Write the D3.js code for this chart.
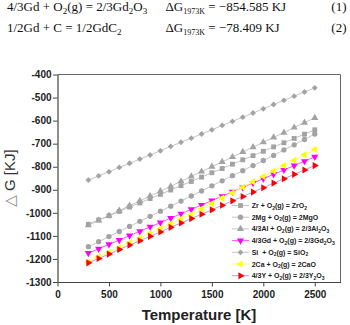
<!DOCTYPE html>
<html>
<head>
<meta charset="utf-8">
<script src="https://d3js.org/d3.v7.min.js"></script>
<style>
  body { margin: 0; background: #fff; }
  svg { display: block; }
</style>
</head>
<body>
<div id="chart"></div>
<script>
// temperatures (K)
var temps = [300, 400, 500, 600, 700, 800, 900, 1000, 1100, 1200, 1300, 1400,
             1500, 1600, 1700, 1800, 1900, 2000, 2100, 2200, 2300, 2400, 2500];

// delta G values (kJ)
var zrO2 = [-1050, -1031, -1013, -994, -975, -957, -938, -920, -901, -882, -864, -845,
            -826, -808, -789, -770, -752, -733, -714, -696, -677, -659, -640];
var mgO = [-1147, -1125, -1103, -1081, -1059, -1037, -1015, -993, -971, -949, -927, -905,
           -883, -861, -839, -817, -795, -773, -751, -727, -705, -682, -658];
var al2O3 = [-1054, -1033, -1012, -990, -969, -948, -927, -906, -885, -863, -842, -821,
             -800, -779, -758, -736, -715, -694, -673, -652, -630, -609, -588];
var gd2O3 = [-1175, -1156, -1137, -1118, -1099, -1080, -1061, -1042, -1023, -1004, -985, -966,
             -947, -928, -909, -890, -871, -852, -833, -814, -795, -776, -757];
var siO2 = [-858, -840, -822, -803, -785, -767, -749, -731, -712, -694, -676, -658,
            -640, -621, -603, -585, -567, -549, -530, -512, -494, -476, -458];
var caO = [-1212, -1191, -1171, -1150, -1130, -1109, -1089, -1068, -1048, -1027, -1007, -983,
           -960, -936, -913, -889, -866, -842, -819, -795, -772, -748, -725];
var y2O3 = [-1217, -1198, -1179, -1159, -1140, -1121, -1102, -1083, -1063, -1044, -1025, -1006,
            -987, -967, -948, -929, -910, -891, -871, -852, -833, -814, -795];

var seriesNames = ['Zr + O_2(g) = ZrO_2', '2Mg + O_2(g) = 2MgO', '4/3Al + O_2(g) = 2/3Al_2O_3',
                   '4/3Gd + O_2(g) = 2/3Gd_2O_3', 'Si  + O_2(g) = SiO_2', '2Ca + O_2(g) = 2CaO',
                   '4/3Y + O_2(g) = 2/3Y_2O_3'];
var seriesValues = [zrO2, mgO, al2O3, gd2O3, siO2, caO, y2O3];

var xTicks = [0, 500, 1000, 1500, 2000, 2500];
var yTicks = [-1300, -1200, -1100, -1000, -900, -800, -700, -600, -500, -400];

// styles per series
var fills = ['#a3a3a3', '#a3a3a3', '#a3a3a3', '#ff00ff', '#a3a3a3', '#ffff00', '#ff0000'];
var lineColors = ['#bdbdbd', '#bdbdbd', '#bdbdbd', '#ff40ff', '#bdbdbd', '#ffff60', '#a694e8'];
var shapes = [
  {type: d3.symbolSquare, size: 24, rot: 0},
  {type: d3.symbolCircle, size: 22, rot: 0},
  {type: d3.symbolTriangle, size: 22, rot: 0},
  {type: d3.symbolTriangle, size: 22, rot: 180},
  {type: d3.symbolSquare, size: 17, rot: 45},
  {type: d3.symbolTriangle, size: 22, rot: -90},
  {type: d3.symbolTriangle, size: 22, rot: 90}
];

var W = 350, H = 325;
var svg = d3.select('#chart').append('svg').attr('width', W).attr('height', H);

var x = d3.scaleLinear().domain([0, 2750]).range([57.5, 340.5]);
var y = d3.scaleLinear().domain([-1300, -400]).range([282, 74.5]);

// text with _x or _{xx} subscripts
function richText(sel, str, subSize, shift) {
  var re = /_\{([^}]*)\}|_(.)|([^_]+)/g, m, down = false;
  while ((m = re.exec(str)) !== null) {
    var sub = m[1] !== undefined ? m[1] : m[2];
    if (sub !== undefined) {
      sel.append('tspan').attr('dy', down ? 0 : shift).style('font-size', subSize + 'px').text(sub);
      down = true;
    } else {
      sel.append('tspan').attr('dy', down ? -shift : 0).text(m[3]);
      down = false;
    }
  }
}

// header equations
var header = svg.append('g').style('font-family', '"Liberation Serif", "Times New Roman", serif')
  .style('font-size', '13px').attr('fill', '#111');
var eqs = [
  ['4/3Gd + O_2(g) = 2/3Gd_2O_3', 'ΔG_{1973K} = −854.585 KJ', '(1)'],
  ['1/2Gd + C = 1/2GdC_2', 'ΔG_{1973K} = −78.409 KJ', '(2)']
];
eqs.forEach(function(row, i) {
  var by = 10.5 + i * 21.5;
  richText(header.append('text').attr('x', 7).attr('y', by), row[0], 9, 3);
  richText(header.append('text').attr('x', 165.5).attr('y', by), row[1], 8, 3);
  header.append('text').attr('x', 346.5).attr('y', by).attr('text-anchor', 'end').text(row[2]);
});

// axes
var axisColor = '#444';
var fmt = function(d) { return String(d); };
var gx = svg.append('g').attr('transform', 'translate(0,282)');
gx.call(d3.axisBottom(x).tickValues(d3.range(0, 2751, 250)).tickSize(2.5).tickFormat(''));
gx.call(d3.axisBottom(x).tickValues(xTicks).tickSize(4.5).tickSizeOuter(0).tickPadding(4.5).tickFormat(fmt));
var gy = svg.append('g').attr('transform', 'translate(57.5,0)');
gy.call(d3.axisLeft(y).tickValues(d3.range(-1300, -399, 50)).tickSize(2.5).tickFormat(''));
gy.call(d3.axisLeft(y).tickValues(yTicks).tickSize(4.5).tickSizeOuter(0).tickPadding(1.5).tickFormat(fmt));
[gx, gy].forEach(function(g) {
  g.selectAll('path.domain').attr('stroke', axisColor).attr('stroke-width', 1.2);
  g.selectAll('line').attr('stroke', axisColor).attr('stroke-width', 1);
  g.selectAll('text').attr('fill', '#222').style('font-family', '"Liberation Sans", Arial, sans-serif')
    .style('font-size', '10px').style('font-weight', 'bold');
});
// top and right frame
svg.append('path')
  .attr('d', 'M57.5,74.5H340.5V282')
  .attr('fill', 'none').attr('stroke', '#666').attr('stroke-width', 1);

// axis titles
svg.append('text').attr('x', 199).attr('y', 320).attr('text-anchor', 'middle')
  .style('font-family', '"Liberation Sans", Arial, sans-serif').style('font-size', '15px')
  .style('font-weight', 'bold').attr('fill', '#222').text('Temperature [K]');
var yt = svg.append('text').attr('transform', 'translate(14.5,178) rotate(-90)')
  .attr('text-anchor', 'middle')
  .style('font-family', '"Liberation Sans", Arial, sans-serif').style('font-size', '15px')
  .attr('fill', '#333');
yt.append('tspan').attr('fill', '#888').style('font-family', '"DejaVu Sans", sans-serif').text('\u25B3');
yt.append('tspan').text(' G [KJ]');

// series
var line = d3.line().x(function(d) { return x(d[0]); }).y(function(d) { return y(d[1]); });
function symbolPath(s) { return d3.symbol().type(s.type).size(s.size)(); }

seriesValues.forEach(function(vals, k) {
  var pts = temps.map(function(t, i) { return [t, vals[i]]; });
  var g = svg.append('g');
  g.append('path').datum(pts).attr('d', line).attr('fill', 'none')
    .attr('stroke', lineColors[k]).attr('stroke-width', 0.9);
  g.selectAll('path.pt').data(pts).enter().append('path').attr('class', 'pt')
    .attr('d', symbolPath(shapes[k]))
    .attr('transform', function(d) {
      return 'translate(' + x(d[0]) + ',' + y(d[1]) + ') rotate(' + shapes[k].rot + ')';
    })
    .attr('fill', fills[k]);
});

// legend
var leg = svg.append('g').style('font-family', '"Liberation Sans", Arial, sans-serif')
  .style('font-size', '7px').style('font-weight', 'bold');
seriesNames.forEach(function(name, k) {
  var ly = 205.5 + k * 11.7;
  leg.append('line').attr('x1', 232).attr('x2', 249).attr('y1', ly).attr('y2', ly)
    .attr('stroke', lineColors[k]).attr('stroke-width', 0.9);
  leg.append('path').attr('d', symbolPath(shapes[k]))
    .attr('transform', 'translate(240.5,' + ly + ') rotate(' + shapes[k].rot + ')')
    .attr('fill', fills[k]);
  richText(leg.append('text').attr('x', 251.7).attr('y', ly + 2.5).attr('fill', '#222')
    .attr('xml:space', 'preserve'), name, 5, 1.5);
});
</script>
</body>
</html>
